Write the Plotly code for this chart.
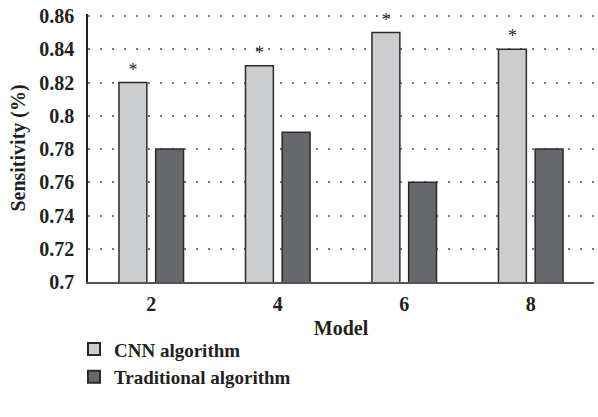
import plotly.graph_objects as go

models = ["2", "4", "6", "8"]
cnn = [0.82, 0.83, 0.85, 0.84]
traditional = [0.78, 0.79, 0.76, 0.78]
marks = ["*", "*", "*", "*"]
yticks = [0.7, 0.72, 0.74, 0.76, 0.78, 0.8, 0.82, 0.84, 0.86]
yticklabels = ["0.7", "0.72", "0.74", "0.76", "0.78", "0.8", "0.82", "0.84", "0.86"]

FONT = "Liberation Serif"
TXT = "#231f20"

fig = go.Figure()
fig.add_trace(go.Bar(
    x=models, y=cnn, name="CNN algorithm",
    marker=dict(color="#cccdcf", line=dict(color="#2a2a2a", width=1.5)),
    text=marks, textposition="outside", cliponaxis=False,
    textfont=dict(family=FONT, size=18, color=TXT),
))
fig.add_trace(go.Bar(
    x=models, y=traditional, name="Traditional algorithm",
    marker=dict(color="#67686c", line=dict(color="#2a2a2a", width=1.5)),
))

fig.update_layout(
    width=598, height=417,
    margin=dict(l=88, r=4, t=14, b=135, autoexpand=False),
    paper_bgcolor="white", plot_bgcolor="white",
    barmode="group", bargap=0.42, bargroupgap=0.24,
    font=dict(family=FONT, color=TXT),
    showlegend=True,
    legend=dict(
        orientation="v", x=-0.0277, xanchor="left", y=-0.18, yanchor="top",
        font=dict(family=FONT, size=19, color=TXT, weight="bold"),
        itemsizing="constant", tracegroupgap=0,
    ),
)
fig.update_xaxes(
    type="category", showline=True, linecolor="#555", linewidth=1.5,
    showgrid=False, ticks="", automargin=False, ticklabelstandoff=3,
    tickfont=dict(family=FONT, size=20, color=TXT, weight="bold"),
    title=dict(text="Model", font=dict(family=FONT, size=20, color=TXT, weight="bold"), standoff=7),
)
fig.update_yaxes(
    range=[0.7, 0.8612], tickvals=yticks, ticktext=yticklabels,
    showline=True, linecolor="#222", linewidth=1.5,
    showgrid=True, gridcolor="#777", griddash="1.5px,10.5px", gridwidth=1.5,
    ticks="", automargin=False, ticklabelstandoff=8, ticklabeloverflow="allow",
    tickfont=dict(family=FONT, size=20, color=TXT, weight="bold"),
    title=dict(text="Sensitivity (%)", font=dict(family=FONT, size=20, color=TXT, weight="bold"), standoff=8),
)

fig.write_html("out.html", post_script="document.body.style.margin='0';",
               config={"displayModeBar": False})
